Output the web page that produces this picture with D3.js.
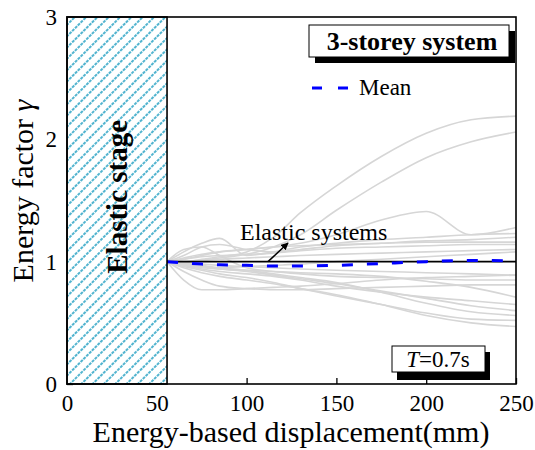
<!DOCTYPE html>
<html><head><meta charset="utf-8">
<script src="https://cdn.jsdelivr.net/npm/d3@7"></script>
<style>body{margin:0;background:#fff}svg{display:block}</style>
</head><body><div id="chart"></div>
<script>
const xGrid = [55.7, 65, 75, 85, 100, 115, 130, 150, 175, 200, 225, 250];
const greySeries = [
  [1, 1.0, 1.02, 1.04, 1.08, 1.2, 1.4, 1.62, 1.86, 2.05, 2.16, 2.19],
  [1, 1.0, 1.01, 1.03, 1.06, 1.12, 1.22, 1.42, 1.65, 1.85, 1.98, 2.06],
  [1, 1.02, 1.05, 1.08, 1.1, 1.12, 1.15, 1.22, 1.34, 1.41, 1.22, 1.28],
  [1, 1.08, 1.15, 1.19, 1.05, 1.08, 1.12, 1.15, 1.18, 1.2, 1.22, 1.23],
  [1, 1.05, 1.12, 1.14, 1.1, 1.08, 1.1, 1.13, 1.15, 1.17, 1.18, 1.2],
  [1, 1.03, 1.06, 1.08, 1.1, 1.12, 1.13, 1.14, 1.15, 1.16, 1.16, 1.16],
  [1, 1.02, 1.04, 1.05, 1.06, 1.07, 1.09, 1.11, 1.12, 1.13, 1.14, 1.14],
  [1, 1.1, 1.12, 1.05, 0.95, 0.92, 0.9, 0.88, 0.87, 0.86, 0.85, 0.85],
  [1, 0.85, 0.77, 0.77, 0.78, 0.79, 0.8, 0.82, 0.85, 0.87, 0.88, 0.89],
  [1, 0.92, 0.85, 0.8, 0.78, 0.77, 0.77, 0.78, 0.79, 0.8, 0.81, 0.81],
  [1, 0.97, 0.94, 0.92, 0.9, 0.88, 0.85, 0.8, 0.75, 0.71, 0.68, 0.65],
  [1, 0.98, 0.96, 0.94, 0.92, 0.89, 0.86, 0.82, 0.76, 0.7, 0.64, 0.6],
  [1, 0.99, 0.97, 0.95, 0.93, 0.9, 0.87, 0.83, 0.75, 0.66, 0.59, 0.56],
  [1, 0.96, 0.93, 0.9, 0.87, 0.83, 0.78, 0.72, 0.65, 0.58, 0.53, 0.52],
  [1, 0.95, 0.91, 0.88, 0.85, 0.82, 0.78, 0.73, 0.65, 0.56, 0.5, 0.47],
  [1, 0.99, 0.98, 0.97, 0.96, 0.95, 0.94, 0.93, 0.92, 0.91, 0.9, 0.89],
  [1, 0.98, 0.96, 0.95, 0.96, 0.97, 0.98, 1.0, 1.02, 1.04, 1.06, 1.08],
  [1, 1.0, 1.01, 1.02, 1.03, 1.04, 1.05, 1.06, 1.07, 1.08, 1.09, 1.1],
  [1, 0.97, 0.95, 0.94, 0.93, 0.92, 0.91, 0.9, 0.88, 0.84, 0.79, 0.71]
];
const meanSeries = [1.0, 0.99, 0.98, 0.975, 0.97, 0.965, 0.965, 0.97, 0.985, 1.0, 1.01, 1.005];
const xTicks = [0, 50, 100, 150, 200, 250];
const yTicks = [0, 1, 2, 3];
const elasticLimit = 55.7;

const FONT = '"Liberation Serif", Tinos, "Times New Roman", Times, "DejaVu Serif", serif';
const W = 535, H = 450;
const m = {l: 67, r: 19, t: 17, b: 66};
const svg = d3.select("#chart").append("svg").attr("width", W).attr("height", H)
  .attr("font-family", FONT).style("font-family", FONT);
const x = d3.scaleLinear().domain([0, 250]).range([m.l, W - m.r]);
const y = d3.scaleLinear().domain([0, 3]).range([H - m.b, m.t]);

// hatch pattern
const defs = svg.append("defs");
const pat = defs.append("pattern").attr("id", "hatch").attr("patternUnits", "userSpaceOnUse")
  .attr("width", 8).attr("height", 8).attr("patternTransform", "rotate(45)");
pat.append("rect").attr("width", 8).attr("height", 8).attr("fill", "#fff");
pat.append("line").attr("x1", 1).attr("y1", 0).attr("x2", 1).attr("y2", 8)
  .attr("stroke", "#52b4cf").attr("stroke-width", 2).attr("stroke-dasharray", "3,1");

// axes
const xAxis = svg.append("g").attr("transform", `translate(0,${y(0)})`)
  .call(d3.axisBottom(x).tickValues(xTicks).tickFormat(d3.format("d")).tickSizeInner(-6).tickSizeOuter(0).tickPadding(11));
const yAxis = svg.append("g").attr("transform", `translate(${x(0)},0)`)
  .call(d3.axisLeft(y).tickValues(yTicks).tickFormat(d3.format("d")).tickSizeInner(-6).tickSizeOuter(0).tickPadding(10));
[xAxis, yAxis].forEach(g => {
  g.attr("font-family", FONT).attr("font-size", 23);
  g.select(".domain").remove();
  g.selectAll("text").attr("fill", "#000").style("font-family", FONT);
  g.selectAll("line").attr("stroke", "#000").attr("stroke-width", 1.3);
});

// grey lines
const line = d3.line().x((d, i) => x(xGrid[i])).y(d => y(d)).curve(d3.curveMonotoneX);
svg.append("g").selectAll("path").data(greySeries).join("path")
  .attr("d", line).attr("fill", "none").attr("stroke", "#d6d6d6").attr("stroke-width", 1.6);

// elastic systems line
svg.append("line").attr("x1", x(elasticLimit)).attr("x2", x(250)).attr("y1", y(1)).attr("y2", y(1))
  .attr("stroke", "#000").attr("stroke-width", 1.6);

// mean
svg.append("path").datum(meanSeries).attr("d", line).attr("fill", "none")
  .attr("stroke", "#0000ff").attr("stroke-width", 3).attr("stroke-dasharray", "11,14");

// hatched elastic stage
svg.append("rect").attr("x", x(0)).attr("y", y(3)).attr("width", x(elasticLimit) - x(0)).attr("height", y(0) - y(3))
  .attr("fill", "url(#hatch)").attr("stroke", "#000").attr("stroke-width", 1.6);
svg.append("text").attr("transform", `translate(${(x(0) + x(elasticLimit)) / 2 + 10},${y(1.53)}) rotate(-90)`)
  .attr("text-anchor", "middle").attr("font-size", 29).attr("font-weight", "bold").style("font-family", FONT).text("Elastic stage");

// frame
svg.append("rect").attr("x", x(0)).attr("y", y(3)).attr("width", x(250) - x(0)).attr("height", y(0) - y(3))
  .attr("fill", "none").attr("stroke", "#000").attr("stroke-width", 1.6);

// Elastic systems annotation
defs.append("marker").attr("id", "arr").attr("viewBox", "0 0 10 10").attr("refX", 9).attr("refY", 5)
  .attr("markerWidth", 5).attr("markerHeight", 5).attr("orient", "auto")
  .append("path").attr("d", "M0,0 L10,5 L0,10 z").attr("fill", "#000");
svg.append("line").attr("x1", 268).attr("y1", y(1)).attr("x2", 288).attr("y2", 243)
  .attr("stroke", "#000").attr("stroke-width", 1.5).attr("marker-end", "url(#arr)");
svg.append("text").attr("x", 240).attr("y", 240).attr("font-size", 24).style("font-family", FONT).text("Elastic systems");

// title box
svg.append("rect").attr("x", 315).attr("y", 31).attr("width", 200).attr("height", 32).attr("fill", "#000");
svg.append("rect").attr("x", 309).attr("y", 25).attr("width", 200).attr("height", 32).attr("fill", "#fff").attr("stroke", "#000").attr("stroke-width", 1);
svg.append("text").attr("x", 412).attr("y", 50).attr("text-anchor", "middle").attr("font-size", 26).attr("font-weight", "bold").style("font-family", FONT).text("3-storey system");

// legend
svg.append("line").attr("x1", 312).attr("x2", 348).attr("y1", 88).attr("y2", 88)
  .attr("stroke", "#0000ff").attr("stroke-width", 3).attr("stroke-dasharray", "10,16");
svg.append("text").attr("x", 359).attr("y", 95).attr("font-size", 23).style("font-family", FONT).text("Mean");

// T box
svg.append("rect").attr("x", 397).attr("y", 352).attr("width", 93).attr("height", 28).attr("fill", "#000");
svg.append("rect").attr("x", 392).attr("y", 346).attr("width", 93).attr("height", 26).attr("fill", "#fff").attr("stroke", "#000").attr("stroke-width", 1);
const tt = svg.append("text").attr("x", 438).attr("y", 367).attr("text-anchor", "middle").attr("font-size", 23).style("font-family", FONT);
tt.append("tspan").attr("font-style", "italic").text("T");
tt.append("tspan").text("=0.7s");

// axis titles
svg.append("text").attr("x", 291).attr("y", 442).attr("text-anchor", "middle").attr("font-size", 30).style("font-family", FONT).text("Energy-based displacement(mm)");
const yl = svg.append("text").attr("transform", `translate(33,191) rotate(-90)`).attr("text-anchor", "middle").attr("font-size", 30).style("font-family", FONT);
yl.append("tspan").text("Energy factor ");
yl.append("tspan").attr("font-style", "italic").text("γ");
</script></body></html>
